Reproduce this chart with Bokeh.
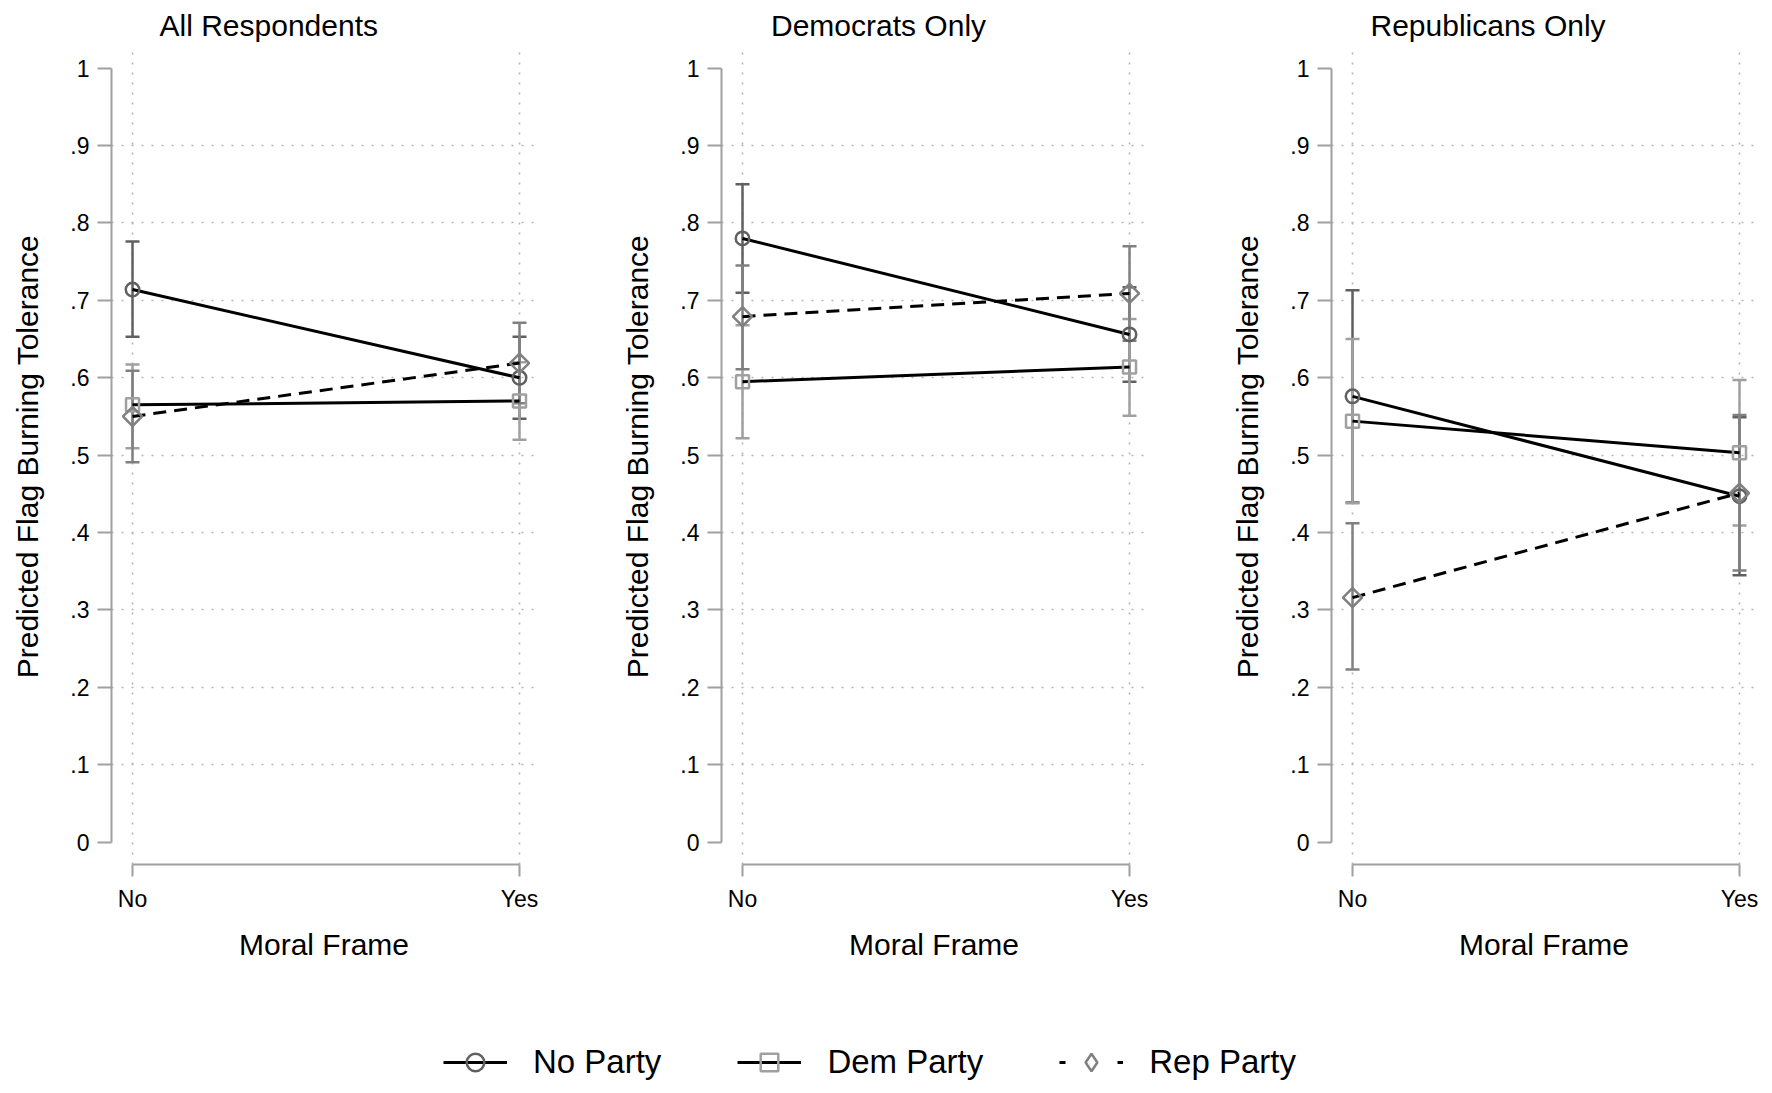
import numpy as np
from bokeh.plotting import figure
from bokeh.models import (ColumnDataSource, Whisker, TeeHead, FixedTicker,
                          CustomJSTickFormatter, Legend, LegendItem, Range1d)
from bokeh.layouts import column, row
from bokeh.embed import file_html
from bokeh.resources import INLINE

# ---------------- data ----------------
categories = ["No", "Yes"]
x_pos = [0, 1]
panel_titles = ["All Respondents", "Democrats Only", "Republicans Only"]
series_names = ["No Party", "Dem Party", "Rep Party"]
y_ticks = [0, 0.1, 0.2, 0.3, 0.4, 0.5, 0.6, 0.7, 0.8, 0.9, 1.0]

# All Respondents
all_noparty = [0.714, 0.600]
all_noparty_lo = [0.653, 0.547]
all_noparty_hi = [0.776, 0.653]
all_dem = [0.565, 0.570]
all_dem_lo = [0.509, 0.520]
all_dem_hi = [0.617, 0.620]
all_rep = [0.550, 0.619]
all_rep_lo = [0.491, 0.567]
all_rep_hi = [0.609, 0.671]

# Democrats Only
dem_noparty = [0.780, 0.656]
dem_noparty_lo = [0.710, 0.595]
dem_noparty_hi = [0.850, 0.717]
dem_dem = [0.595, 0.614]
dem_dem_lo = [0.522, 0.551]
dem_dem_hi = [0.668, 0.676]
dem_rep = [0.679, 0.709]
dem_rep_lo = [0.611, 0.648]
dem_rep_hi = [0.745, 0.770]

# Republicans Only
rep_noparty = [0.576, 0.447]
rep_noparty_lo = [0.439, 0.345]
rep_noparty_hi = [0.713, 0.549]
rep_dem = [0.544, 0.503]
rep_dem_lo = [0.438, 0.409]
rep_dem_hi = [0.650, 0.597]
rep_rep = [0.316, 0.451]
rep_rep_lo = [0.223, 0.351]
rep_rep_hi = [0.412, 0.552]

panel_data = [
    [(all_noparty, all_noparty_lo, all_noparty_hi),
     (all_dem, all_dem_lo, all_dem_hi),
     (all_rep, all_rep_lo, all_rep_hi)],
    [(dem_noparty, dem_noparty_lo, dem_noparty_hi),
     (dem_dem, dem_dem_lo, dem_dem_hi),
     (dem_rep, dem_rep_lo, dem_rep_hi)],
    [(rep_noparty, rep_noparty_lo, rep_noparty_hi),
     (rep_dem, rep_dem_lo, rep_dem_hi),
     (rep_rep, rep_rep_lo, rep_rep_hi)],
]

# ---------------- styles ----------------
FONT = "Liberation Sans"
series_colors = ["#606060", "#a0a0a0", "#808080"]
series_markers = ["circle", "square", "square"]
series_angles = [0.0, 0.0, np.pi / 4]
series_sizes = [13.5, 13, 13.5]
series_dash = ["solid", "solid", "13 8"]
AXIS_COLOR = "#a0a0a0"
GRID_COLOR = "#b4b4b4"
title_offsets = [48, 49.5, 39]

tick_fmt = CustomJSTickFormatter(code="""
if (Math.abs(tick) < 1e-9) return "0";
if (Math.abs(tick - 1) < 1e-9) return "1";
return tick.toFixed(1).replace(/^0/, "");
""")


def make_panel(title, data, width, left_border, right_border, title_offset):
    p = figure(width=width, height=964,
               x_range=Range1d(-0.0543, 1.0439), y_range=Range1d(-0.0288, 1.0254),
               output_backend="svg", toolbar_location=None,
               min_border_left=left_border, min_border_right=right_border,
               min_border_top=47, min_border_bottom=100)
    p.outline_line_color = None
    p.background_fill_color = "white"
    p.border_fill_color = "white"

    p.title.text = title
    p.title.text_font = FONT
    p.title.text_font_size = "30px"
    p.title.text_font_style = "normal"
    p.title.text_color = "black"
    p.title.align = "left"
    p.title.offset = title_offset
    p.title.standoff = 13
    p.title.vertical_align = "bottom"

    # axes
    for ax in (p.xaxis[0], p.yaxis[0]):
        ax.bounds = (0, 1)
        ax.axis_line_color = AXIS_COLOR
        ax.axis_line_width = 2
        ax.major_tick_line_color = AXIS_COLOR
        ax.major_tick_line_width = 2
        ax.major_tick_in = 0
        ax.minor_tick_line_color = None
        ax.major_label_text_font = FONT
        ax.major_label_text_font_size = "23px"
        ax.major_label_text_color = "black"
        ax.axis_label_text_font = FONT
        ax.axis_label_text_font_size = "30px"
        ax.axis_label_text_font_style = "normal"
        ax.axis_label_text_color = "black"

    p.yaxis.ticker = FixedTicker(ticks=y_ticks)
    p.yaxis.formatter = tick_fmt
    p.yaxis.major_tick_out = 14
    p.yaxis.major_label_standoff = 8
    p.yaxis.axis_label = "Predicted Flag Burning Tolerance"
    p.yaxis.axis_label_standoff = 23

    p.xaxis.ticker = FixedTicker(ticks=x_pos)
    p.xaxis.major_label_overrides = {x_pos[i]: categories[i] for i in range(2)}
    p.xaxis.major_tick_out = 12
    p.xaxis.major_label_standoff = 9
    p.xaxis.axis_label = "Moral Frame"
    p.xaxis.axis_label_standoff = 13

    # grids
    p.xgrid.ticker = FixedTicker(ticks=x_pos)
    p.ygrid.ticker = FixedTicker(ticks=y_ticks[1:-1])
    for g in (p.xgrid[0], p.ygrid[0]):
        g.grid_line_color = GRID_COLOR
        g.grid_line_dash = "2 8"
        g.grid_line_width = 1.6

    # series
    sources = []
    for k, (vals, lo, hi) in enumerate(data):
        src = ColumnDataSource(dict(x=x_pos, y=vals, lo=lo, hi=hi))
        sources.append(src)
        c = series_colors[k]
        w = Whisker(source=src, base="x", upper="hi", lower="lo",
                    line_color=c, line_width=2.5,
                    upper_head=TeeHead(size=14, line_color=c, line_width=2.5),
                    lower_head=TeeHead(size=14, line_color=c, line_width=2.5))
        p.add_layout(w)
    for k, src in enumerate(sources):
        p.line("x", "y", source=src, line_color="black", line_width=3,
               line_dash=series_dash[k])
    for k, src in enumerate(sources):
        p.scatter("x", "y", source=src, marker=series_markers[k],
                  size=series_sizes[k], angle=series_angles[k],
                  fill_color=None, line_color=series_colors[k], line_width=2.5)
    return p


p1 = make_panel(panel_titles[0], panel_data[0], 618, 111, 82, title_offsets[0])
p2 = make_panel(panel_titles[1], panel_data[1], 610, 103, 82, title_offsets[1])
p3 = make_panel(panel_titles[2], panel_data[2], 536, 103, 8, title_offsets[2])

# ---------------- legend (separate strip below the panels) ----------------
# legend proxies reuse the first panel's values, but the strip's y range
# lies far away from them, so only their legend glyphs are visible
pl = figure(width=1764, height=121, x_range=Range1d(0, 1), y_range=Range1d(10, 11),
            x_axis_type=None, y_axis_type=None, output_backend="svg",
            toolbar_location=None, min_border=0)
pl.outline_line_color = None
pl.grid.visible = False
legend_markers = ["circle", "square", "diamond"]
legend_dash = ["solid", "solid", "6 52"]
items = []
for k, name in enumerate(series_names):
    vals = panel_data[0][k][0]
    rl = pl.line(x=x_pos, y=vals, line_color="black", line_width=3,
                 line_dash=legend_dash[k])
    rm = pl.scatter(x=x_pos, y=vals, marker=legend_markers[k], size=16,
                    fill_color=None, line_color=series_colors[k], line_width=2.5)
    items.append(LegendItem(label=name, renderers=[rl, rm]))
legend = Legend(items=items, orientation="horizontal", location=(443, 1),
                glyph_width=64, glyph_height=44, label_height=44,
                label_standoff=26, spacing=76, padding=0, margin=0,
                label_text_font=FONT, label_text_font_size="33px",
                label_text_color="black", border_line_color=None,
                background_fill_alpha=0)
pl.add_layout(legend)

layout = column(row(p1, p2, p3), pl)
open("out.html", "w").write(file_html(layout, INLINE))
